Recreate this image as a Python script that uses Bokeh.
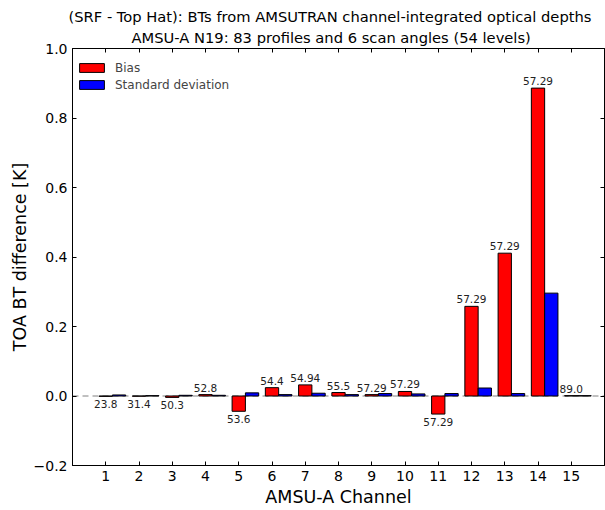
from bokeh.plotting import figure
from bokeh.models import (ColumnDataSource, FixedTicker, LinearAxis, Span, Title,
                          Legend, LegendItem, CustomJSTickFormatter, Range1d, LabelSet)
from bokeh.core.properties import value
from bokeh.embed import file_html
from bokeh.resources import INLINE

# ---- data ----
channels = list(range(1, 16))
bias = [-0.001, -0.0005, -0.004, 0.004, -0.044, 0.024, 0.032, 0.010, 0.004,
        0.013, -0.052, 0.258, 0.411, 0.886, 0.001]
stdev = [0.003, 0.001, 0.002, 0.002, 0.009, 0.004, 0.008, 0.004, 0.007,
         0.006, 0.007, 0.023, 0.007, 0.296, 0.001]
freq_labels = ["23.8", "31.4", "50.3", "52.8", "53.6", "54.4", "54.94", "55.5",
               "57.29", "57.29", "57.29", "57.29", "57.29", "57.29", "89.0"]
title_lines = ["(SRF - Top Hat): BTs from AMSUTRAN channel-integrated optical depths",
               "AMSU-A N19: 83 profiles and 6 scan angles (54 levels)"]
y_ticks = [-0.2, 0.0, 0.2, 0.4, 0.6, 0.8, 1.0]

FONT = "DejaVu Sans"
bar_w = 0.4

src = ColumnDataSource(dict(
    ch=channels,
    ch_std=[c + bar_w for c in channels],
    bias=bias,
    stdev=stdev,
    lab=freq_labels,
))
pos = ColumnDataSource(dict(
    x=[c for c, b in zip(channels, bias) if b >= 0],
    y=[b for b in bias if b >= 0],
    t=[l for l, b in zip(freq_labels, bias) if b >= 0]))
neg = ColumnDataSource(dict(
    x=[c for c, b in zip(channels, bias) if b < 0],
    y=[b for b in bias if b < 0],
    t=[l for l, b in zip(freq_labels, bias) if b < 0]))

p = figure(width=605, height=510, output_backend="svg", toolbar_location=None,
           x_range=Range1d(0, 16), y_range=Range1d(-0.2, 1.0),
           min_border_left=72, min_border_right=1, min_border_top=48,
           min_border_bottom=45)
p.xgrid.visible = False
p.ygrid.visible = False
p.outline_line_color = "black"
p.outline_line_width = 1
p.background_fill_color = "white"
p.border_fill_color = "white"

zero = Span(location=0, dimension="width", line_color="#808080",
            line_dash="6 4", line_width=1, level="underlay")
p.add_layout(zero)

r_bias = p.vbar(x="ch", top="bias", bottom=0, width=bar_w, source=src,
                fill_color="#ff0000", line_color="black", line_width=1)
r_std = p.vbar(x="ch_std", top="stdev", bottom=0, width=bar_w, source=src,
               fill_color="#0000ff", line_color="black", line_width=1)

lab_pos = LabelSet(x="x", y="y", text="t", source=pos, text_align="center",
                   text_baseline="bottom", y_offset=3, text_font=value(FONT),
                   text_font_size="10.5px", text_color="#222222")
lab_neg = LabelSet(x="x", y="y", text="t", source=neg, text_align="center",
                   text_baseline="top", y_offset=-4, text_font=value(FONT),
                   text_font_size="10.5px", text_color="#222222")
p.add_layout(lab_pos)
p.add_layout(lab_neg)

# axes
def style_axis(ax):
    ax.major_tick_in = 4
    ax.major_tick_out = 0
    ax.minor_tick_line_color = None
    ax.axis_line_color = "black"
    ax.major_tick_line_color = "black"
    ax.major_label_text_font = FONT
    ax.major_label_text_font_size = "14px"
    ax.major_label_text_color = "black"
    ax.axis_label_text_font = FONT
    ax.axis_label_text_font_size = "17.5px"
    ax.axis_label_text_font_style = "normal"
    ax.axis_label_text_color = "black"

xa = p.xaxis[0]
xa.ticker = FixedTicker(ticks=channels)
xa.axis_label = "AMSU-A Channel"
style_axis(xa)
xa.major_label_standoff = 5
xa.axis_label_standoff = 3

ya = p.yaxis[0]
ya.ticker = FixedTicker(ticks=y_ticks)
ya.formatter = CustomJSTickFormatter(
    code="return (tick < -1e-9 ? '\u2212' : '') + Math.abs(tick).toFixed(1);")
ya.axis_label = "TOA BT difference [K]"
style_axis(ya)
ya.major_label_standoff = 5
ya.axis_label_standoff = 1

blank = CustomJSTickFormatter(code="return '';")
ra = LinearAxis(ticker=FixedTicker(ticks=y_ticks), formatter=blank)
style_axis(ra)
ra.major_label_standoff = 0
p.add_layout(ra, "right")
ta = LinearAxis(ticker=FixedTicker(ticks=channels), formatter=blank)
style_axis(ta)
ta.major_label_standoff = 0
p.add_layout(ta, "above")

# two-line title: inner line added first, outer line last
for txt, so, off in zip(reversed(title_lines), [5, 0], [59, -4]):
    p.add_layout(Title(text=txt, align="left", text_font=FONT,
                       text_font_size="14.7px", text_font_style="normal",
                       text_color="black", standoff=so, offset=off), "above")

legend = Legend(items=[LegendItem(label="Bias", renderers=[r_bias]),
                       LegendItem(label="Standard deviation", renderers=[r_std])],
                location=(4, 372), border_line_color=None,
                background_fill_alpha=0, margin=0, padding=6, spacing=0,
                glyph_width=31, glyph_height=11, label_height=17,
                label_standoff=8, label_text_font=FONT,
                label_text_font_size="12px")
p.add_layout(legend)

open("out.html", "w").write(file_html(p, INLINE))
